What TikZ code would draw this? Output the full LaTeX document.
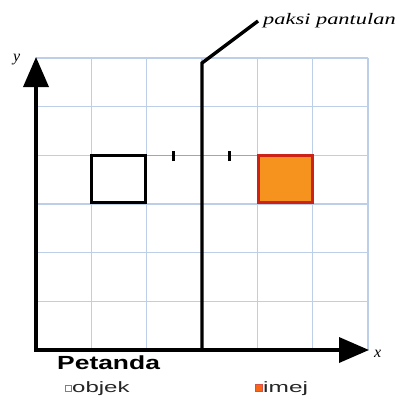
\documentclass[tikz,border=0pt]{standalone}
\usepackage{fontspec}
\setmainfont{Liberation Serif}
\setsansfont{Liberation Sans}
\usetikzlibrary{arrows.meta}
\definecolor{gridblue}{RGB}{188,206,232}
\definecolor{imgfill}{RGB}{246,146,30}
\definecolor{imgborder}{RGB}{205,35,22}
\begin{document}
\begin{tikzpicture}[x=1pt,y=-1pt,
  gridline/.style={gridblue, line width=1.1pt},
  axisline/.style={line width=3.6pt, -{Triangle[length=30pt,width=25pt]}},
  mirrorline/.style={line width=3.4pt, line join=miter},
  sqbox/.style={line width=3.2pt, minimum width=54pt, minimum height=46.5pt, inner sep=0pt, anchor=north west},
  tickmark/.style={line width=2.6pt},
  sanslabel/.style={font=\sffamily, inner sep=0pt, anchor=base west},
  italabel/.style={font=\itshape, inner sep=0pt, anchor=base west}]
\useasboundingbox (0,0) rectangle (406,402);
\fill[white] (0,0) rectangle (406,402);
% grid
\foreach \gx in {36,91.33,146.67,202,257.33,312.67,368}
  \draw[gridline] (\gx,58) -- (\gx,350);
\foreach \gy in {58,106.67,155.33,204,252.67,301.33,350}
  \draw[gridline] (36,\gy) -- (368,\gy);
% coordinates
\coordinate (O) at (36,350);
\coordinate (Ytip) at (36,57);
\coordinate (Xtip) at (369,350);
\coordinate (Mbot) at (202,350);
\coordinate (Mtop) at (202,63);
\coordinate (Lead) at (258,21);
% object and image
\node[sqbox, draw=black, fill=white] (obj) at (90,154) {};
\node[sqbox, draw=imgborder, fill=imgfill] (img) at (257,154) {};
% distance line and ticks
\draw[gray!70, line width=1.2pt] (obj.east |- 0,155.5) -- (img.west |- 0,155.5);
\coordinate (t1) at (173.5,156);
\coordinate (t2) at (229.5,156);
\draw[tickmark] ([yshift=-5pt]t1) -- ([yshift=5pt]t1);
\draw[tickmark] ([yshift=-5pt]t2) -- ([yshift=5pt]t2);
% axes
\draw[axisline] (O) -- (Ytip);
\draw[axisline] ([xshift=-1.8pt]O) -- (Xtip);
% mirror line
\draw[mirrorline] (Mbot) -- (Mtop) -- (Lead);
% labels
\node[italabel] (ylab) at (13,61) {\fontsize{16}{16}\selectfont y};
\node[italabel] (xlab) at (374,357) {\fontsize{16}{16}\selectfont x};
\node[italabel] (plab) at (263,24) {\scalebox{1.4}[1]{\fontsize{16}{16}\selectfont paksi pantulan}};
\node[sanslabel] (pet) at (57,369) {\scalebox{1.39}[1]{\fontsize{19}{19}\selectfont\bfseries Petanda}};
\node[draw=gray, line width=0.8pt, fill=white, minimum width=6pt, minimum height=6pt, inner sep=0pt, anchor=south west] (objkey) at (64.5,392) {};
\node[sanslabel, text=black!85] (objtxt) at (72,392) {\scalebox{1.6}[1]{\fontsize{15}{15}\selectfont objek}};
\node[draw=imgborder!80, line width=0.8pt, fill=imgfill!70!red, minimum width=6.5pt, minimum height=7pt, inner sep=0pt, anchor=south west] (imgkey) at (255,392) {};
\node[sanslabel, text=black!85] (imgtxt) at (263,392) {\scalebox{1.63}[1]{\fontsize{15}{15}\selectfont imej}};
\end{tikzpicture}
\end{document}
